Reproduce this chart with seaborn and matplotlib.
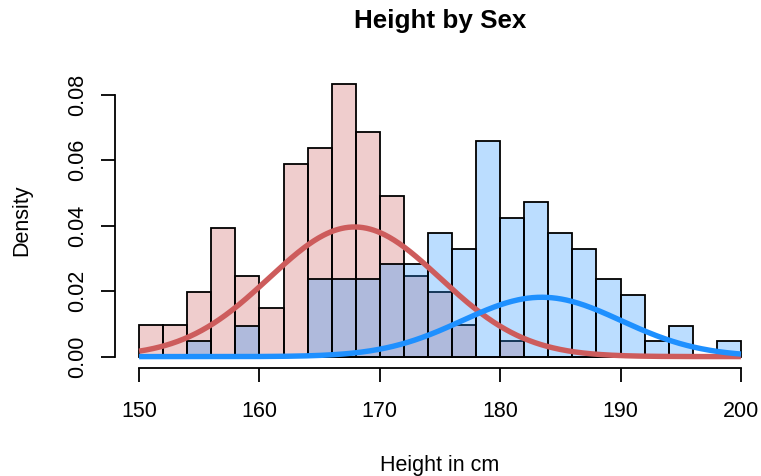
import numpy as np
import pandas as pd
import matplotlib
matplotlib.use("Agg")
import matplotlib.pyplot as plt
import seaborn as sns

# Histogram bins (cm) and counts per 2 cm bin
bin_edges = [150, 152, 154, 156, 158, 160, 162, 164, 166, 168, 170, 172, 174,
             176, 178, 180, 182, 184, 186, 188, 190, 192, 194, 196, 198, 200]
female_counts = [2, 2, 4, 8, 5, 3, 12, 13, 17, 14, 10, 5, 4,
                 2, 0, 1, 0, 0, 0, 0, 0, 0, 0, 0, 0]
male_counts = [0, 0, 1, 0, 2, 0, 0, 5, 5, 5, 6, 6, 8,
               7, 14, 9, 10, 8, 7, 5, 4, 1, 2, 0, 1]

# Normal mixture components: weight, mean, sd
female_fit = [0.705, 167.9, 7.1]
male_fit = [0.30, 183.45, 6.6]

x_ticks = [150, 160, 170, 180, 190, 200]
x_tick_labels = ["150", "160", "170", "180", "190", "200"]
y_ticks = [0.00, 0.02, 0.04, 0.06, 0.08]
y_tick_labels = ["0.00", "0.02", "0.04", "0.06", "0.08"]

red = (205 / 255, 92 / 255, 92 / 255)      # indianred
blue = (30 / 255, 144 / 255, 255 / 255)    # dodgerblue

sns.set_theme(style="ticks")
plt.rcParams["font.family"] = ["Liberation Sans", "DejaVu Sans"]
plt.rcParams["text.color"] = "black"
plt.rcParams["axes.labelcolor"] = "black"

W, H = 761, 476
fig = plt.figure(figsize=(W / 100, H / 100), dpi=100)
left, right, top, bottom = 115, 765, 72.5, 368
ax = fig.add_axes([left / W, 1 - bottom / H, (right - left) / W, (bottom - top) / H])

centers = [(a + b) / 2 for a, b in zip(bin_edges[:-1], bin_edges[1:])]
hist_df = pd.DataFrame({"height": centers, "female": female_counts, "male": male_counts})

sns.histplot(data=hist_df, x="height", weights="female", bins=bin_edges, stat="density",
             color=red, alpha=0.3, edgecolor="black", linewidth=1.3, ax=ax)
sns.histplot(data=hist_df, x="height", weights="male", bins=bin_edges, stat="density",
             color=blue, alpha=0.3, edgecolor="black", linewidth=1.3, ax=ax)


def component(grid, w, mu, sd):
    return w * np.exp(-0.5 * ((grid - mu) / sd) ** 2) / (sd * np.sqrt(2 * np.pi))


grid = np.linspace(bin_edges[0], bin_edges[-1], 501)
curve_df = pd.DataFrame({
    "height": grid,
    "female": component(grid, *female_fit),
    "male": component(grid, *male_fit),
})
sns.lineplot(data=curve_df, x="height", y="female", color=red, linewidth=3.9, ax=ax)
sns.lineplot(data=curve_df, x="height", y="male", color=blue, linewidth=3.9, ax=ax)
for ln in ax.lines:
    ln.set_solid_capstyle("butt")

ax.set_xlim(148, 202)
ax.set_ylim(-0.003484, 0.08682)

ax.set_xticks(x_ticks)
ax.set_xticklabels(x_tick_labels)
ax.set_yticks(y_ticks)
ax.set_yticklabels(y_tick_labels, rotation=90, va="center")
ax.tick_params(axis="both", length=10, width=1.3, color="black", labelcolor="black",
               labelsize=15.5, direction="out")
ax.tick_params(axis="x", pad=14)
ax.tick_params(axis="y", pad=9.4)

for side in ["top", "right"]:
    ax.spines[side].set_visible(False)
ax.spines["left"].set_bounds(y_ticks[0], y_ticks[-1])
ax.spines["bottom"].set_bounds(x_ticks[0], x_ticks[-1])
for side in ["left", "bottom"]:
    ax.spines[side].set_color("black")
    ax.spines[side].set_linewidth(1.3)

ax.set_xlabel("Height in cm", fontsize=15.5, va="baseline", color="black")
ax.xaxis.set_label_coords(0.5, -(471 - bottom) / (bottom - top))
ax.set_ylabel("Density", fontsize=15.5, va="center", color="black")
ax.yaxis.set_label_coords((22 - left) / (right - left), (bottom - 220) / (bottom - top))

fig.text(440 / W, 1 - 28 / H, "Height by Sex", ha="center", va="baseline",
         fontsize=18.7, fontweight="bold", color="black")

fig.savefig("out.png", dpi=100)
